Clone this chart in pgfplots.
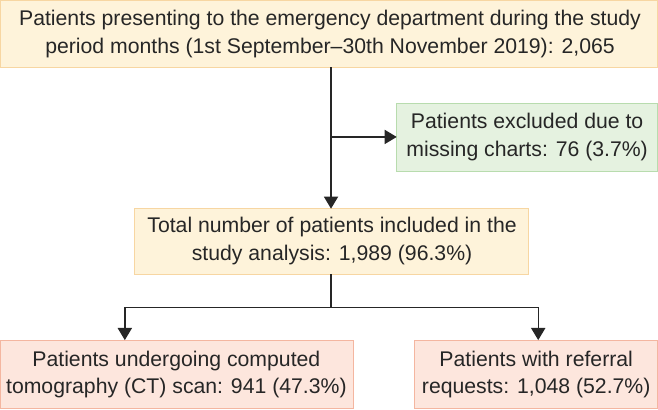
\documentclass[border=0pt]{standalone}
\usepackage{pgfplots}
\pgfplotsset{compat=1.18}
\usetikzlibrary{arrows.meta}
\usepackage{fontspec}
\setmainfont{Liberation Sans}

\definecolor{ylwfill}{HTML}{FEF3DA}
\definecolor{ylwline}{HTML}{F7D6A2}
\definecolor{grnfill}{HTML}{E5F2E0}
\definecolor{grnline}{HTML}{B8DCAE}
\definecolor{pnkfill}{HTML}{FDE6DD}
\definecolor{pnkline}{HTML}{F4B6A0}
\definecolor{ink}{HTML}{262626}

\tikzset{
  lbl/.style={align=center, text=ink, font=\fontsize{21}{27.5}\selectfont, inner sep=0pt},
  arr/.style={ink, line width=1.4pt, -{Triangle[length=12pt,width=14pt]}},
  ln/.style={ink, line width=1.4pt},
}

\begin{document}
\begin{tikzpicture}
\begin{axis}[
  width=658pt, height=404pt, scale only axis,
  xmin=0, xmax=658, ymin=0, ymax=404, y dir=reverse,
  hide axis, clip=false,
]
% boxes: x0, y0, x1, y1 in pixels of the reference
\draw[ylwline, fill=ylwfill, line width=1pt] (axis cs:8,6) rectangle (axis cs:658,72);
\draw[grnline, fill=grnfill, line width=1pt] (axis cs:400,108) rectangle (axis cs:658,175);
\draw[ylwline, fill=ylwfill, line width=1pt] (axis cs:141,212) rectangle (axis cs:530,277);
\draw[pnkline, fill=pnkfill, line width=1pt] (axis cs:8,342) rectangle (axis cs:357,410);
\draw[pnkline, fill=pnkfill, line width=1pt] (axis cs:418,342) rectangle (axis cs:658,410);

% connectors
\draw[arr] (axis cs:335,72) -- (axis cs:335,212);
\draw[arr] (axis cs:335,141) -- (axis cs:400,141);
\draw[ln] (axis cs:335,277) -- (axis cs:335,310);
\draw[ln] (axis cs:131,310) -- (axis cs:540,310);
\draw[arr] (axis cs:131,309.3) -- (axis cs:131,342);
\draw[arr] (axis cs:540,309.3) -- (axis cs:540,342);

% texts
\node[lbl] at (axis cs:334,39) {Patients presenting to the emergency department during the study\\period months (1st September--30th November 2019): 2,065};
\node[lbl] at (axis cs:529,141) {Patients excluded due to\\missing charts: 76 (3.7\%)};
\node[lbl] at (axis cs:336,244) {Total number of patients included in the\\study analysis: 1,989 (96.3\%)};
\node[lbl] at (axis cs:182,376) {Patients undergoing computed\\tomography (CT) scan: 941 (47.3\%)};
\node[lbl] at (axis cs:538,376) {Patients with referral\\requests: 1,048 (52.7\%)};
\end{axis}
\end{tikzpicture}
\end{document}
